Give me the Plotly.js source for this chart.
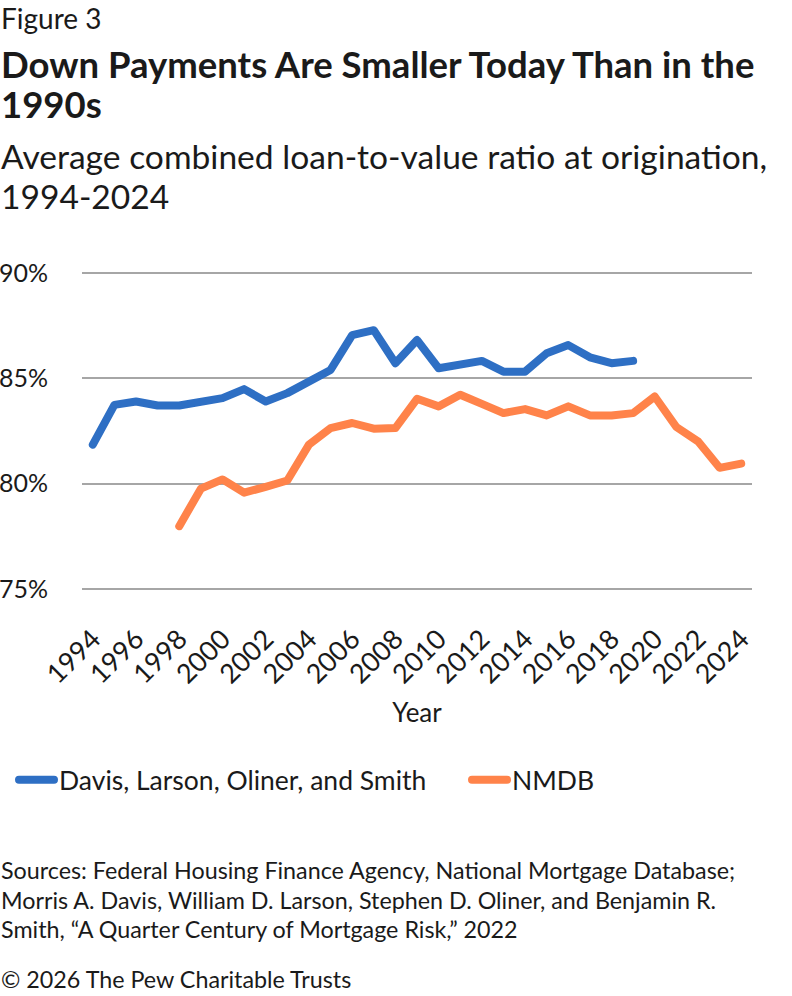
<!DOCTYPE html>
<html>
<head>
<meta charset="utf-8">
<script src="https://cdn.plot.ly/plotly-3.0.1.min.js"></script>
<style>
  body { margin: 0; background: #fff; }
  #chart { width: 792px; height: 996px; }
  /* rounded ends and joins like the original lines */
  #chart path.js-line { stroke-linecap: round; stroke-linejoin: round; }
</style>
</head>
<body>
<div id="chart"></div>
<script>
// Years on the x axis
const years = [
  1994, 1995, 1996, 1997, 1998, 1999, 2000, 2001, 2002, 2003, 2004,
  2005, 2006, 2007, 2008, 2009, 2010, 2011, 2012, 2013, 2014,
  2015, 2016, 2017, 2018, 2019, 2020, 2021, 2022, 2023, 2024
];

// Davis, Larson, Oliner, and Smith series (1994-2019)
const davisLTV = [
  81.85, 83.74, 83.9, 83.71, 83.71, 83.9, 84.06, 84.49, 83.9, 84.3, 84.88,
  85.4, 87.05, 87.29, 85.72, 86.82, 85.48, 85.64, 85.83, 85.32, 85.32,
  86.19, 86.58, 86.0, 85.72, 85.83, null, null, null, null, null
];

// NMDB series (1998-2024)
const nmdbLTV = [
  null, null, null, null, 77.98, 79.76, 80.2, 79.57, 79.85, 80.15, 81.85,
  82.64, 82.88, 82.61, 82.64, 84.03, 83.67, 84.22, 83.79, 83.35, 83.54,
  83.24, 83.67, 83.24, 83.24, 83.35, 84.14, 82.69, 82.01, 80.75, 80.95
];

const seriesNames = ['Davis, Larson, Oliner, and Smith', 'NMDB'];
const yTicks = [75, 80, 85, 90];
const yTickText = ['75%', '80%', '85%', '90%'];

// Page geometry
const W = 792, H = 996;
const M = { l: 82, r: 40, t: 271, b: 405 };
const plotW = W - M.l - M.r;
const plotH = H - M.t - M.b;
const px = (x) => (x - M.l) / plotW;
const py = (y) => (H - M.b - y) / plotH;

const font = 'Lato, "Open Sans", sans-serif';
const textColor = '#1a1a1a';

// Text lines outside the plot, drawn as annotations
function textLine(text, yCenter, size, bold) {
  return {
    text: bold ? '<b>' + text + '</b>' : text,
    xref: 'paper', yref: 'paper',
    x: px(0), y: py(yCenter),
    xanchor: 'left', yanchor: 'middle',
    borderpad: 0,
    showarrow: false,
    align: 'left',
    font: { family: font, size: size, color: textColor },
  };
}

const annotations = [
  textLine('Figure 3', 18, 28, false),
  textLine('Down Payments Are Smaller Today Than in the', 64, 36.5, true),
  textLine('1990s', 104, 36.5, true),
  textLine('Average combined loan-to-value ratio at origination,', 156, 33.6, false),
  textLine('1994-2024', 196, 33.6, false),
  textLine('Sources: Federal Housing Finance Agency, National Mortgage Database;', 870, 23.3, false),
  textLine('Morris A. Davis, William D. Larson, Stephen D. Oliner, and Benjamin R.', 900, 23.3, false),
  textLine('Smith, \u201cA Quarter Century of Mortgage Risk,\u201d 2022', 929, 23.3, false),
  textLine('\u00a9 2026 The Pew Charitable Trusts', 979, 23.3, false),
];

const trace1 = {
  x: years,
  y: davisLTV,
  name: seriesNames[0],
  mode: 'lines',
  type: 'scatter',
  line: { color: '#2e6fc4', width: 8 },
  legend: 'legend',
};

const trace2 = {
  x: years,
  y: nmdbLTV,
  name: seriesNames[1],
  mode: 'lines',
  type: 'scatter',
  line: { color: '#ff834a', width: 8 },
  legend: 'legend2',
};

const legendStyle = (xPix) => ({
  orientation: 'h',
  x: px(xPix),
  y: py(780),
  xanchor: 'left',
  yanchor: 'middle',
  itemwidth: 35,
  font: { family: font, size: 26.5, color: textColor },
});

const layout = {
  width: W,
  height: H,
  margin: M,
  paper_bgcolor: '#fff',
  plot_bgcolor: '#fff',
  font: { family: font, size: 26, color: textColor },
  showlegend: true,
  legend: legendStyle(14),
  legend2: legendStyle(467),
  xaxis: {
    range: [1993.5, 2024.5],
    tick0: 1994,
    dtick: 2,
    tickangle: -45,
    showgrid: false,
    zeroline: false,
    showline: false,
    ticks: '',
    ticklabelstandoff: 26,
    tickfont: { family: font, size: 27, color: textColor },
    title: { text: 'Year', font: { family: font, size: 26, color: textColor }, standoff: 15 },
    automargin: false,
    fixedrange: true,
  },
  yaxis: {
    range: [74.9, 90.1],
    tickvals: yTicks,
    ticktext: yTickText,
    showgrid: true,
    gridcolor: '#a6a6a6',
    gridwidth: 2,
    zeroline: false,
    showline: false,
    ticks: '',
    ticklabelstandoff: 33,
    tickfont: { family: font, size: 25, color: textColor },
    automargin: false,
    fixedrange: true,
  },
  annotations,
};

Plotly.newPlot('chart', [trace1, trace2], layout, { staticPlot: true });
</script>
</body>
</html>
